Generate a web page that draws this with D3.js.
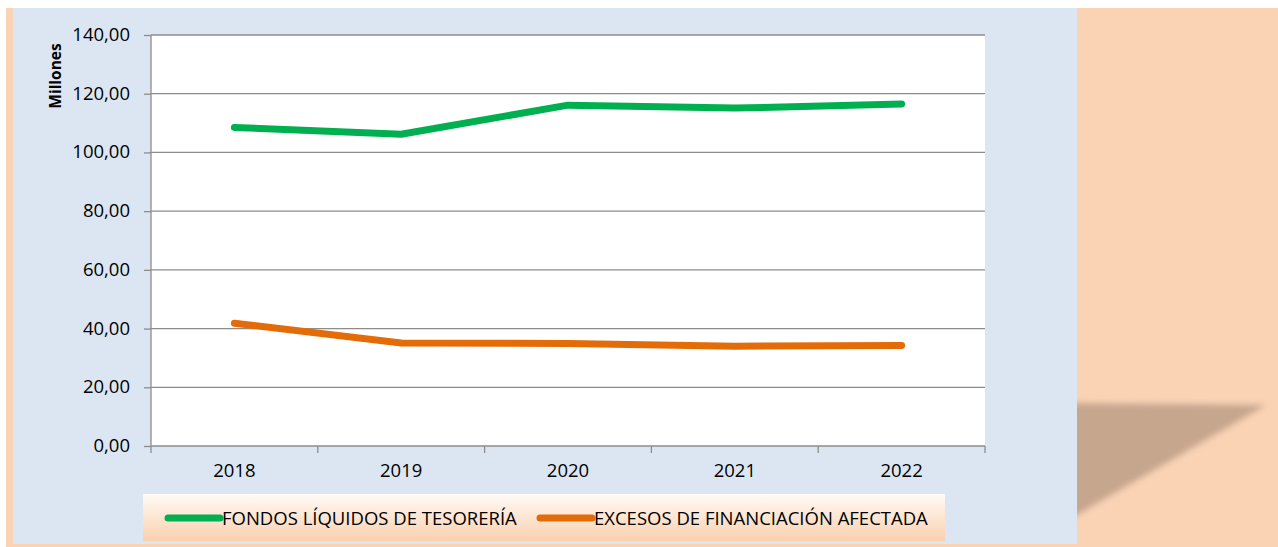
<!DOCTYPE html>
<html>
<head>
<meta charset="utf-8">
<script src="https://cdn.jsdelivr.net/npm/d3@7"></script>
<style>
  body { margin: 0; background: #fff; }
  svg { display: block; }
</style>
</head>
<body>
<div id="chart"></div>
<script>
// data
var years = ["2018", "2019", "2020", "2021", "2022"];
var fondos = [108.5, 106.2, 116.1, 115.1, 116.5];
var excesos = [41.8, 35.1, 34.9, 34.0, 34.2];
var yTicks = [0, 20, 40, 60, 80, 100, 120, 140];
var seriesNames = ["FONDOS LÍQUIDOS DE TESORERÍA", "EXCESOS DE FINANCIACIÓN AFECTADA"];
var seriesColors = ["#00B050", "#E36C09"];

var W = 1278, H = 547;
var margin = {top: 35, left: 151, right: 293, bottom: 101};
var width = W - margin.left - margin.right,
    height = H - margin.top - margin.bottom;

var svg = d3.select("#chart").append("svg")
    .attr("width", W).attr("height", H);

var defs = svg.append("defs");
var grad = defs.append("linearGradient").attr("id", "legGrad")
    .attr("x1", 0).attr("y1", 0).attr("x2", 0).attr("y2", 1);
grad.append("stop").attr("offset", "0%").attr("stop-color", "#FFFBF6");
grad.append("stop").attr("offset", "100%").attr("stop-color", "#FAD0AE");
defs.append("filter").attr("id", "blur").append("feGaussianBlur").attr("stdDeviation", 3);

// background: peach page, shadow, blue panel
svg.append("rect").attr("x", 6).attr("y", 8).attr("width", W - 6).attr("height", H - 8)
    .attr("fill", "#FAD3B5");
svg.append("path")
    .attr("d", "M1060,403 L1266,405 L1077,515 L1060,520 Z")
    .attr("fill", "#C6A68D").attr("filter", "url(#blur)");
svg.append("rect").attr("x", 13).attr("y", 8).attr("width", 1064).attr("height", 536)
    .attr("fill", "#DCE6F2");

var g = svg.append("g").attr("transform", "translate(" + margin.left + "," + margin.top + ")");

g.append("rect").attr("width", width).attr("height", height).attr("fill", "#fff");

var x = d3.scaleBand().domain(years).range([0, width]);
var y = d3.scaleLinear().domain([0, 140]).range([height, 0]);

var font = "'Open Sans', sans-serif";

// grid
g.selectAll(".grid").data(yTicks.filter(function(d){ return d > 0; }))
  .enter().append("line")
    .attr("x1", 0).attr("x2", width)
    .attr("y1", function(d){ return y(d); }).attr("y2", function(d){ return y(d); })
    .attr("stroke", "#8C8C8C").attr("stroke-width", 1.3);

// y axis
var yAxis = g.append("g")
    .call(d3.axisLeft(y).tickValues(yTicks).tickSize(7).tickPadding(14)
      .tickFormat(function(d){ return d3.format(".2f")(d).replace(".", ","); }));
yAxis.select(".domain").attr("stroke", "#8C8C8C").attr("stroke-width", 1.3).attr("d", "M0,0V" + height);
yAxis.selectAll(".tick line").attr("stroke", "#8C8C8C").attr("stroke-width", 1.3);
yAxis.selectAll("text").attr("font-family", font).attr("font-size", 18.5).attr("fill", "#000")
    .attr("dy", "0.3em");

// x axis
var xAxis = g.append("g").attr("transform", "translate(0," + height + ")")
    .call(d3.axisBottom(x).tickSize(0).tickPadding(19));
xAxis.select(".domain").attr("stroke", "#8C8C8C").attr("stroke-width", 1.3).attr("d", "M0,0H" + width);
xAxis.selectAll("text").attr("font-family", font).attr("font-size", 18.5).attr("fill", "#000")
    .attr("dy", "0.66em");
xAxis.selectAll(".bt").data(d3.range(years.length + 1)).enter().append("line")
    .attr("x1", function(i){ return i * x.step(); }).attr("x2", function(i){ return i * x.step(); })
    .attr("y1", 0).attr("y2", 7).attr("stroke", "#8C8C8C").attr("stroke-width", 1.3);

// axis title
g.append("text")
    .attr("transform", "translate(" + (-90) + "," + 41 + ") rotate(-90)")
    .attr("text-anchor", "middle")
    .attr("font-family", font).attr("font-weight", "bold").attr("font-size", 15.5)
    .text("Millones");

// lines
var line = d3.line()
    .x(function(d, i){ return x(years[i]) + x.bandwidth() / 2; })
    .y(function(d){ return y(d); });

[fondos, excesos].forEach(function(s, i){
  g.append("path").datum(s)
    .attr("d", line)
    .attr("fill", "none")
    .attr("stroke", seriesColors[i])
    .attr("stroke-width", 7)
    .attr("stroke-linecap", "round")
    .attr("stroke-linejoin", "round");
});

// legend
var leg = svg.append("g").attr("transform", "translate(143,494)");
leg.append("rect").attr("width", 802).attr("height", 47).attr("fill", "url(#legGrad)");
var legX = [22, 394];
seriesNames.forEach(function(n, i){
  var it = leg.append("g").attr("transform", "translate(" + legX[i] + ",24)");
  it.append("line").attr("x1", 3).attr("x2", 55).attr("y1", 0).attr("y2", 0)
    .attr("stroke", seriesColors[i]).attr("stroke-width", 7).attr("stroke-linecap", "round");
  it.append("text").attr("x", 57).attr("y", 7)
    .attr("font-family", "'Liberation Sans Narrow', 'Open Sans', sans-serif").attr("font-size", 18.5)
    .text(n);
});
</script>
</body>
</html>
